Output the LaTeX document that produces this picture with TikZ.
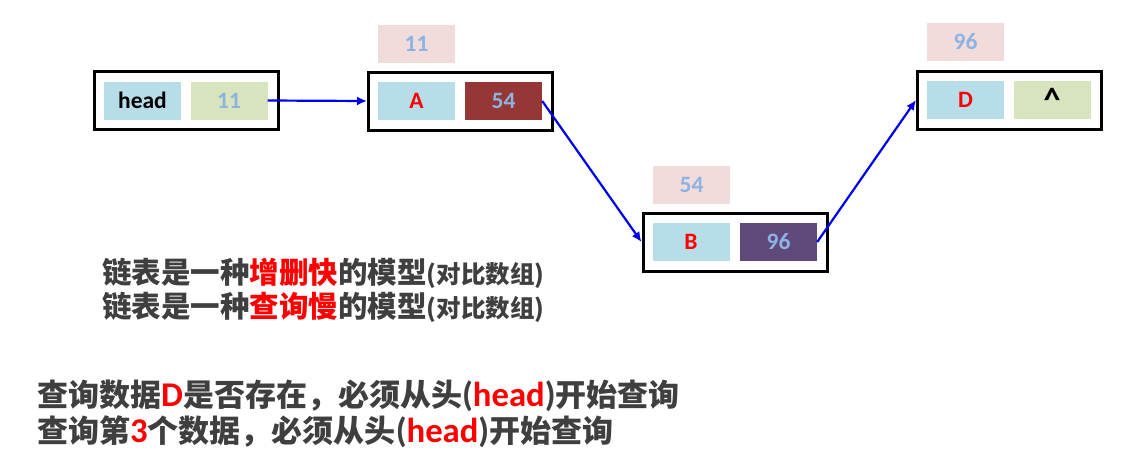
\documentclass[tikz,border=0pt]{standalone}
\usepackage{fontspec}
\setmainfont{Carlito}
\newfontfamily\cjk{Noto Sans CJK SC}
\newfontfamily\latf{Carlito}[Scale=1.12]
\usetikzlibrary{arrows.meta}
\definecolor{cellblue}{HTML}{B7DDE8}
\definecolor{cellgreen}{HTML}{D7E4BD}
\definecolor{celldred}{HTML}{953735}
\definecolor{cellpurple}{HTML}{5F497A}
\definecolor{cellpink}{HTML}{F2DCDB}
\definecolor{numblue}{HTML}{8DB3E2}
\definecolor{txtgray}{HTML}{3F3F3F}
\definecolor{arrblue}{HTML}{0000F0}
\tikzset{
  cell/.style={minimum width=77pt, minimum height=38pt, inner sep=0pt, font=\fontsize{23.5}{24}\selectfont\bfseries},
  outerbox/.style={draw=black, line width=3pt, minimum width=184pt, minimum height=58pt, inner sep=0pt},
  link/.style={draw=arrblue, line width=2.2pt, -{Latex[length=10pt,width=9pt]}},
  maintext/.style={anchor=west, inner sep=0pt, text=txtgray, font=\cjk\bfseries},
}
\begin{document}
\begin{tikzpicture}[x=1pt,y=-1pt]
\useasboundingbox[fill=white] (0,0) rectangle (1142,461);
% head node
\node[outerbox] (hbox) at (186,100.5) {};
\node[cell, fill=cellblue, text=black] (hhead) at (142.5,100.5) {head};
\node[cell, fill=cellgreen, text=numblue] (hnext) at (229,100.5) {11};
% A node
\node[cell, fill=cellpink, text=numblue] (aaddr) at (416.5,43.5) {11};
\node[outerbox] (abox) at (460.5,101) {};
\node[cell, fill=cellblue, text=red] (adata) at (416.5,101) {A};
\node[cell, fill=celldred, text=numblue] (anext) at (503.5,101) {54};
% B node
\node[cell, fill=cellpink, text=numblue] (baddr) at (691.5,184.5) {54};
\node[outerbox] (bbox) at (735,242) {};
\node[cell, fill=cellblue, text=red] (bdata) at (691,242) {B};
\node[cell, fill=cellpurple, text=numblue] (bnext) at (778.5,242) {96};
% D node
\node[cell, fill=cellpink, text=numblue] (daddr) at (965.5,42) {96};
\node[outerbox] (dbox) at (1009.5,100) {};
\node[cell, fill=cellblue, text=red] (ddata) at (965.5,100) {D};
\node[cell, fill=cellgreen, text=black] (dnext) at (1052,100) {\raisebox{-0.55ex}{\fontsize{34}{34}\selectfont\textasciicircum}};
% links
\draw[link] (hnext.east) -- (abox.west);
\draw[link] (anext.east) -- (bbox.west);
\draw[link] (bnext.east) -- (dbox.west);
% texts
\node[maintext, font=\cjk\bfseries\fontsize{29.5}{32}\selectfont] (t1) at (102,273) {链表是一种\textcolor{red}{增删快}的模型{\fontsize{24.5}{26}\selectfont(对比数组)}};
\node[maintext, font=\cjk\bfseries\fontsize{29.5}{32}\selectfont] (t2) at (102,307) {链表是一种\textcolor{red}{查询慢}的模型{\fontsize{24.5}{26}\selectfont(对比数组)}};
\node[maintext, font=\cjk\bfseries\fontsize{31}{34}\selectfont] (t3) at (37,396) {查询数据\textcolor{red}{\latf\bfseries D}是否存在，必须从头{\latf\bfseries(\textcolor{red}{head})}开始查询};
\node[maintext, font=\cjk\bfseries\fontsize{31}{34}\selectfont] (t4) at (37,432) {查询第\textcolor{red}{\latf\bfseries 3}个数据，必须从头{\latf\bfseries(\textcolor{red}{head})}开始查询};
\end{tikzpicture}
\end{document}
